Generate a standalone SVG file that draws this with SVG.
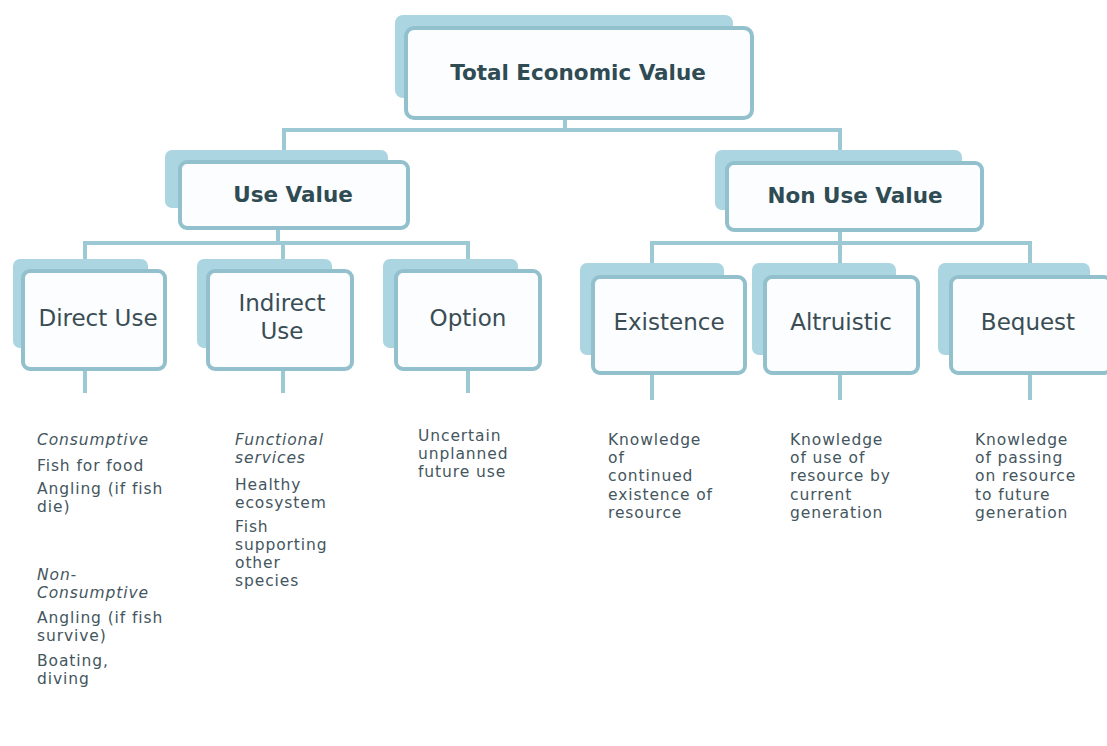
<svg xmlns="http://www.w3.org/2000/svg" width="1107" height="746" viewBox="0 0 1107 746">
<style>
.back{fill:#abd5e1;}
.front{fill:#fbfdfe;stroke:#92c0cc;stroke-width:4;}
.con{stroke:#9dc9d5;stroke-width:4;fill:none;}
.h{font-family:"DejaVu Sans",sans-serif;font-weight:bold;font-size:21.5px;fill:#2f4b53;text-anchor:middle;}
.m{font-family:"DejaVu Sans",sans-serif;font-size:23px;fill:#3a4d55;text-anchor:middle;}
.d{font-family:"DejaVu Sans",sans-serif;font-size:15.5px;letter-spacing:0.9px;fill:#44565e;}
.i{font-style:italic;}
</style>
<rect width="1107" height="746" fill="#ffffff"/>
<g id="connectors">
<path class="con" d="M565 118V130M284 130H840M284 128V150M840 128V150"/>
<path class="con" d="M278 228V243M85 243H468M85 241V259M283 241V259M468 241V259"/>
<path class="con" d="M840 230V243M652 243H1030M652 241V263M840 241V263M1030 241V263"/>
<path class="con" d="M85 369V393M283 369V393M468 369V393M652 373V400M840 373V400M1030 373V400"/>
</g>
<g id="tev">
<rect class="back" x="395" y="15" width="338" height="83" rx="8"/>
<rect class="front" x="406" y="28" width="346" height="90" rx="8"/>
<text class="h" x="578" y="80">Total Economic Value</text>
</g>
<g id="use-value">
<rect class="back" x="165" y="150" width="223" height="58" rx="7"/>
<rect class="front" x="180" y="162" width="228" height="66" rx="7"/>
<text class="h" x="293" y="202">Use Value</text>
</g>
<g id="non-use-value">
<rect class="back" x="715" y="150" width="247" height="60" rx="7"/>
<rect class="front" x="727" y="163" width="255" height="67" rx="7"/>
<text class="h" x="855" y="203">Non Use Value</text>
</g>
<g id="direct-use">
<rect class="back" x="13" y="259" width="135" height="89" rx="7"/>
<rect class="front" x="23" y="271" width="142" height="98" rx="7"/>
<text class="m" x="98" y="326">Direct Use</text>
</g>
<g id="indirect-use">
<rect class="back" x="197" y="259" width="135" height="89" rx="7"/>
<rect class="front" x="208" y="271" width="144" height="98" rx="7"/>
<text class="m" x="282" y="311">Indirect</text>
<text class="m" x="282" y="339">Use</text>
</g>
<g id="option">
<rect class="back" x="383" y="259" width="135" height="89" rx="7"/>
<rect class="front" x="396" y="271" width="144" height="98" rx="7"/>
<text class="m" x="468" y="326">Option</text>
</g>
<g id="existence">
<rect class="back" x="580" y="263" width="144" height="92" rx="7"/>
<rect class="front" x="593" y="277" width="152" height="96" rx="7"/>
<text class="m" x="669" y="330">Existence</text>
</g>
<g id="altruistic">
<rect class="back" x="752" y="263" width="144" height="92" rx="7"/>
<rect class="front" x="765" y="277" width="153" height="96" rx="7"/>
<text class="m" x="841" y="330">Altruistic</text>
</g>
<g id="bequest">
<rect class="back" x="938" y="263" width="152" height="92" rx="7"/>
<rect class="front" x="951" y="277" width="160" height="96" rx="7"/>
<text class="m" x="1028" y="330">Bequest</text>
</g>
<g id="direct-use-text">
<text class="d i" x="37" y="445">Consumptive</text>
<text class="d" x="37" y="471">Fish for food</text>
<text class="d" x="37" y="494">Angling (if fish</text>
<text class="d" x="37" y="512">die)</text>
<text class="d i" x="37" y="580">Non-</text>
<text class="d i" x="37" y="598">Consumptive</text>
<text class="d" x="37" y="623">Angling (if fish</text>
<text class="d" x="37" y="641">survive)</text>
<text class="d" x="37" y="666">Boating,</text>
<text class="d" x="37" y="684">diving</text>
</g>
<g id="indirect-use-text">
<text class="d i" x="235" y="445">Functional</text>
<text class="d i" x="235" y="463">services</text>
<text class="d" x="235" y="490">Healthy</text>
<text class="d" x="235" y="508">ecosystem</text>
<text class="d" x="235" y="532">Fish</text>
<text class="d" x="235" y="550">supporting</text>
<text class="d" x="235" y="568">other</text>
<text class="d" x="235" y="586">species</text>
</g>
<g id="option-text">
<text class="d" x="418" y="441">Uncertain</text>
<text class="d" x="418" y="459">unplanned</text>
<text class="d" x="418" y="477">future use</text>
</g>
<g id="existence-text">
<text class="d" x="608" y="445">Knowledge</text>
<text class="d" x="608" y="463">of</text>
<text class="d" x="608" y="481">continued</text>
<text class="d" x="608" y="500">existence of</text>
<text class="d" x="608" y="518">resource</text>
</g>
<g id="altruistic-text">
<text class="d" x="790" y="445">Knowledge</text>
<text class="d" x="790" y="463">of use of</text>
<text class="d" x="790" y="481">resource by</text>
<text class="d" x="790" y="500">current</text>
<text class="d" x="790" y="518">generation</text>
</g>
<g id="bequest-text">
<text class="d" x="975" y="445">Knowledge</text>
<text class="d" x="975" y="463">of passing</text>
<text class="d" x="975" y="481">on resource</text>
<text class="d" x="975" y="500">to future</text>
<text class="d" x="975" y="518">generation</text>
</g>
</svg>
